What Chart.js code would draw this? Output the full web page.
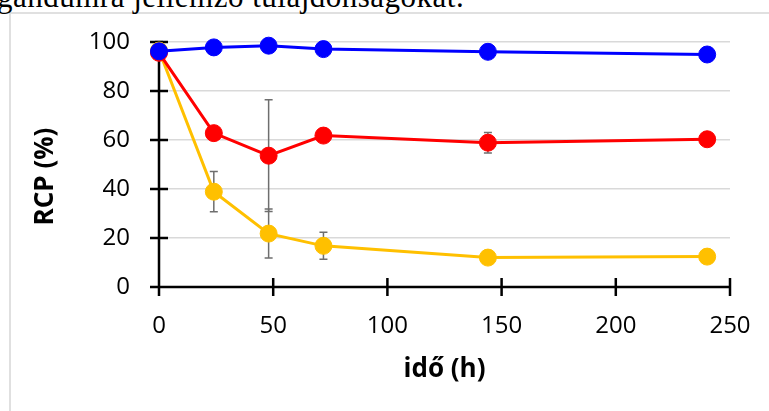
<!DOCTYPE html>
<html>
<head>
<meta charset="utf-8">
<script src="https://cdn.jsdelivr.net/npm/chart.js@4.4.0/dist/chart.umd.min.js"></script>
<style>
  body { margin: 0; background: #fff; }
  #wrap { position: relative; width: 769px; height: 411px; overflow: hidden; }
  #frame { position: absolute; left: 9px; top: 12px; width: 800px; height: 420px; border: 2px solid #e0e0e0; box-sizing: border-box; }
  #caption { position: absolute; left: -3px; top: -19px; font-family: "Liberation Serif", serif; font-size: 31px; line-height: 31px; letter-spacing: 0.5px; white-space: nowrap; color: #000; }
  canvas { position: absolute; left: 0; top: 0; }
</style>
</head>
<body>
<div id="wrap">
  <div id="frame"></div>
  <div id="caption">gandumra jellemző tulajdonságokat.</div>
  <canvas id="rcpChart" width="769" height="411"></canvas>
</div>
<script>
const hours = [0, 24, 48, 72, 144, 240];
const blueRcp = [96.2, 97.8, 98.5, 97.1, 96.0, 94.9];
const redRcp = [95.6, 62.8, 53.6, 61.8, 58.9, 60.3];
const yellowRcp = [96.5, 38.9, 21.8, 16.8, 12.0, 12.4];
const blueErr = [1, 1, 1, 1, 1, 1];
const redErr = [2, 2, 22.8, 2, 4.2, 1];
const yellowErr = [3.7, 8.2, 10, 5.5, 2.5, 1];

const xTicks = [0, 50, 100, 150, 200, 250];
const yTicks = [0, 20, 40, 60, 80, 100];

const series = [
  { values: blueRcp, errors: blueErr, color: "#0000ff" },
  { values: redRcp, errors: redErr, color: "#ff0000" },
  { values: yellowRcp, errors: yellowErr, color: "#ffc000" }
];

const toPoints = vals => hours.map((h, i) => ({ x: h, y: vals[i] }));

// axes drawn as crossing tick marks + error bars, under the lines
const axesAndErrors = {
  id: "axesAndErrors",
  beforeDatasetsDraw(chart) {
    const { ctx, scales } = chart;
    const x = scales.x, y = scales.y;
    ctx.save();

    // error bars
    ctx.strokeStyle = "#6e6e6e";
    ctx.lineWidth = 1.5;
    series.forEach(s => {
      hours.forEach((h, i) => {
        const e = s.errors[i];
        if (!e) return;
        const px = x.getPixelForValue(h);
        const top = y.getPixelForValue(s.values[i] + e);
        const bot = y.getPixelForValue(s.values[i] - e);
        ctx.beginPath();
        ctx.moveTo(px, top); ctx.lineTo(px, bot);
        ctx.moveTo(px - 4, top); ctx.lineTo(px + 4, top);
        ctx.moveTo(px - 4, bot); ctx.lineTo(px + 4, bot);
        ctx.stroke();
      });
    });

    ctx.strokeStyle = "#000";
    ctx.lineWidth = 2.5;
    const x0 = x.getPixelForValue(0), y0 = y.getPixelForValue(0);
    ctx.beginPath();
    ctx.moveTo(x0, y.getPixelForValue(100)); ctx.lineTo(x0, y0);
    ctx.moveTo(x0, y0); ctx.lineTo(x.getPixelForValue(250), y0);
    yTicks.forEach(v => {
      const py = y.getPixelForValue(v);
      ctx.moveTo(x0 - 9, py); ctx.lineTo(x0 + 9, py);
    });
    xTicks.forEach(v => {
      const px = x.getPixelForValue(v);
      ctx.moveTo(px, y0 - 9); ctx.lineTo(px, y0 + 9);
    });
    ctx.stroke();
    ctx.restore();
  },
  afterDraw(chart) {
    const { ctx, chartArea } = chart;
    ctx.save();
    ctx.font = "bold 26px 'Open Sans'";
    ctx.fillStyle = "#000";
    ctx.textAlign = "center";
    ctx.textBaseline = "middle";
    ctx.translate(46, (chartArea.top + chartArea.bottom) / 2 + 12);
    ctx.rotate(-Math.PI / 2);
    ctx.fillText("RCP (%)", 0, 0);
    ctx.restore();
  }
};

new Chart(document.getElementById("rcpChart"), {
  type: "line",
  data: {
    datasets: series.map(s => ({
      data: toPoints(s.values),
      borderColor: s.color,
      backgroundColor: s.color,
      pointBackgroundColor: s.color,
      pointBorderColor: s.color,
      borderWidth: 3,
      pointRadius: 8.5,
      pointBorderWidth: 1,
      tension: 0,
      clip: false
    }))
  },
  options: {
    responsive: false,
    animation: false,
    devicePixelRatio: 1,
    layout: { padding: { top: 42, right: 39, left: 0, bottom: 0 } },
    plugins: { legend: { display: false }, tooltip: { enabled: false } },
    scales: {
      x: {
        type: "linear",
        min: 0,
        max: 250,
        afterBuildTicks: s => { s.ticks = xTicks.map(v => ({ value: v })); },
        afterFit: s => { s.height = 124; s.paddingLeft = 0; s.paddingRight = 0; },
        grid: { display: false, drawTicks: false },
        border: { display: false },
        ticks: { padding: 25, color: "#000", font: { family: "Open Sans", size: 24 } },
        title: {
          display: true,
          text: "idő (h)",
          color: "#000",
          font: { family: "Open Sans", size: 26, weight: "bold" },
          padding: { top: 0, bottom: 26 }
        }
      },
      y: {
        min: 0,
        max: 100,
        afterBuildTicks: s => { s.ticks = yTicks.map(v => ({ value: v })); },
        afterFit: s => { s.width = 159; s.paddingTop = 0; s.paddingBottom = 0; },
        grid: { color: "#d9d9d9", lineWidth: 1.5, drawTicks: false },
        border: { display: false },
        ticks: { padding: 29, color: "#000", font: { family: "Open Sans", size: 24 } }
      }
    }
  },
  plugins: [axesAndErrors]
});
</script>
</body>
</html>
